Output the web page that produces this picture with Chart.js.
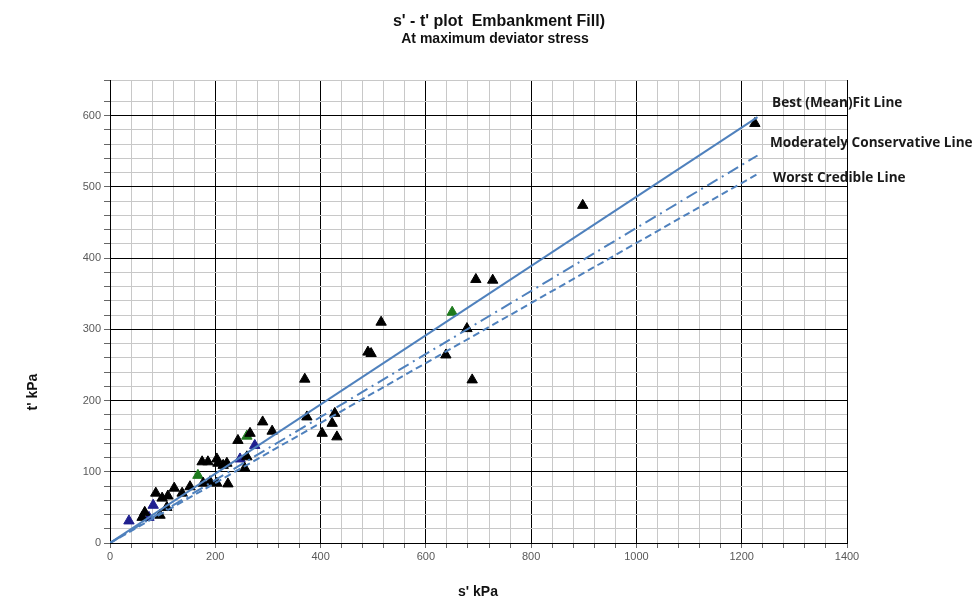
<!DOCTYPE html>
<html>
<head>
<meta charset="utf-8">
<script src="https://cdn.jsdelivr.net/npm/chart.js@4.4.1/dist/chart.umd.min.js"></script>
<style>
    html, body { margin: 0; padding: 0; background: #fff; }
    #wrap { width: 977px; height: 601px; }
</style>
</head>
<body>
<div id="wrap"><canvas id="chart" width="977" height="601"></canvas></div>
<script>
// Test results (s', t') at maximum deviator stress, kPa
const blackS = [61, 95, 66, 99, 87, 110, 108, 122, 137, 152, 175, 186, 203, 205, 222, 215, 260, 256, 177, 190, 203, 224,
    243, 266, 290, 308, 374, 370, 427, 422, 403, 431, 490, 496, 515, 638, 678, 688, 695, 727, 898, 1225];
const blackT = [36, 39, 43, 63, 70, 66, 50, 77, 70, 79, 114, 114, 118, 112, 112, 109, 121, 105, 84, 86, 84, 83,
    144, 154, 170, 157, 177, 230, 182, 168, 154, 149, 268, 266, 310, 264, 301, 229, 370, 369, 474, 589];
const blueS = [36, 74, 82, 247, 275];
const blueT = [31, 36, 53, 118, 137];
const greenS = [167, 260, 650];
const greenT = [95, 150, 324];

// Design lines (drawn from origin)
const lineS = [0, 1230];
const bestFitT = [0, 598];
const moderateT = [0, 544];
const worstT = [0, 518];

const lineLabels = ['Best (Mean)Fit Line', 'Moderately Conservative Line', 'Worst Credible Line'];

const toPoints = (xs, ys) => xs.map((x, i) => ({ x: x, y: ys[i] }));

const LINE_BLUE = '#4f81bd';

function pointSet(label, xs, ys, color) {
    return {
        type: 'scatter',
        label: label,
        data: toPoints(xs, ys),
        pointStyle: 'triangle',
        pointRadius: 6,
        pointBackgroundColor: color,
        pointBorderColor: color,
        pointBorderWidth: 1,
        order: 2
    };
}

function lineSet(label, ys, dash) {
    return {
        type: 'line',
        label: label,
        data: toPoints(lineS, ys),
        borderColor: LINE_BLUE,
        borderWidth: 2,
        borderDash: dash,
        pointRadius: 0,
        fill: false,
        order: 1
    };
}

// Titles, axis titles and line labels drawn as text
const textPlugin = {
    id: 'texts',
    afterDraw(chart) {
        const ctx = chart.ctx;
        ctx.save();
        ctx.fillStyle = '#111';
        ctx.textAlign = 'center';
        ctx.textBaseline = 'alphabetic';
        ctx.font = 'bold 16px "Liberation Sans", Arial, sans-serif';
        ctx.fillText("s' - t' plot  Embankment Fill)", 499, 26);
        ctx.font = 'bold 14px "Liberation Sans", Arial, sans-serif';
        ctx.fillText('At maximum deviator stress', 495, 43);

        ctx.font = 'bold 14px "Liberation Sans", Arial, sans-serif';
        ctx.fillText("s' kPa", 478, 596);
        ctx.save();
        ctx.translate(37, 392);
        ctx.rotate(-Math.PI / 2);
        ctx.fillText("t' kPa", 0, 0);
        ctx.restore();

        ctx.textAlign = 'left';
        ctx.fillStyle = '#1a1a1a';
        ctx.font = 'bold 13.6px "Open Sans", "Liberation Sans", sans-serif';
        ctx.fillText(lineLabels[0], 772, 107);
        ctx.fillText(lineLabels[1], 770, 147);
        ctx.fillText(lineLabels[2], 773, 182);
        ctx.restore();
    }
};

new Chart(document.getElementById('chart'), {
    data: {
        datasets: [
            pointSet('Tests', blackS, blackT, '#000000'),
            pointSet('Tests (blue)', blueS, blueT, '#1f1f8f'),
            pointSet('Tests (green)', greenS, greenT, '#1e7a1e'),
            lineSet(lineLabels[0], bestFitT, []),
            lineSet(lineLabels[1], moderateT, [12, 5, 2, 5]),
            lineSet(lineLabels[2], worstT, [7, 4])
        ]
    },
    options: {
        responsive: false,
        animation: false,
        layout: { padding: { top: 80, right: 130, left: 0, bottom: 0 } },
        plugins: {
            legend: { display: false },
            title: { display: false },
            tooltip: { enabled: false }
        },
        scales: {
            x: {
                type: 'linear',
                min: 0,
                max: 1400,
                afterFit: scale => { scale.height = 58; },
                ticks: {
                    stepSize: 40,
                    autoSkip: false,
                    maxRotation: 0,
                    padding: 2,
                    color: '#595959',
                    font: { size: 11, family: '"Liberation Sans", Arial, sans-serif' },
                    callback: v => (v % 200 === 0 ? v : '')
                },
                grid: {
                    color: c => (c.tick && c.tick.value % 200 === 0 ? '#000' : '#c8c8c8'),
                    tickColor: '#666',
                    tickLength: 5
                },
                border: { color: '#000' }
            },
            y: {
                type: 'linear',
                min: 0,
                max: 650,
                afterFit: scale => { scale.width = 110; },
                ticks: {
                    stepSize: 20,
                    autoSkip: false,
                    padding: 3,
                    color: '#595959',
                    font: { size: 11, family: '"Liberation Sans", Arial, sans-serif' },
                    callback: v => (v % 100 === 0 ? v : '')
                },
                grid: {
                    color: c => (c.tick && c.tick.value % 100 === 0 ? '#000' : '#c8c8c8'),
                    tickColor: '#666',
                    tickLength: 6
                },
                border: { color: '#000' }
            }
        }
    },
    plugins: [textPlugin]
});
</script>
</body>
</html>
